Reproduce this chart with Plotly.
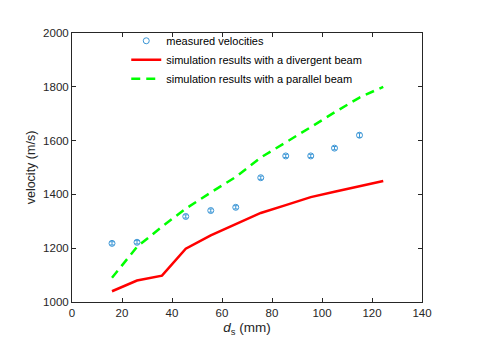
import plotly.graph_objects as go

# measured velocities
meas_x = [16, 26, 45.5, 55.5, 65.5, 75.5, 85.5, 95.5, 105, 115]
meas_y = [1218, 1222, 1318, 1340, 1352, 1462, 1543, 1543, 1572, 1620]
meas_err = [6, 6, 6, 6, 6, 6, 6, 6, 6, 8]

# simulation, divergent beam
div_x = [16, 26, 36, 45.5, 55.5, 65.5, 75.5, 85.5, 95.5, 105, 115, 124.5]
div_y = [1040, 1080, 1098, 1198, 1248, 1290, 1331, 1360, 1390, 1410, 1430, 1450]

# simulation, parallel beam
par_x = [16, 26, 36, 45.5, 55.5, 65.5, 75.5, 85.5, 95.5, 105, 115, 124.5]
par_y = [1090, 1205, 1280, 1347, 1407, 1465, 1537, 1592, 1650, 1705, 1760, 1800]

x_ticks = [0, 20, 40, 60, 80, 100, 120, 140]
y_ticks = [1000, 1200, 1400, 1600, 1800, 2000]

FONT = "Liberation Sans, Arial, Helvetica, sans-serif"
AX = "#262626"

fig = go.Figure()
fig.add_trace(go.Scatter(
    x=meas_x, y=meas_y, mode="markers", name="measured velocities",
    marker=dict(symbol="circle-open", size=6, color="#3d97d6", line=dict(width=1)),
    error_y=dict(type="data", array=meas_err, color="#3d97d6", thickness=1, width=2),
))
fig.add_trace(go.Scatter(
    x=div_x, y=div_y, mode="lines", name="simulation results with a divergent beam",
    line=dict(color="#ff0000", width=2.5),
))
fig.add_trace(go.Scatter(
    x=par_x, y=par_y, mode="lines", name="simulation results with a parallel beam",
    line=dict(color="#00ff00", width=2.5, dash="9px,6px"),
))

axis_common = dict(
    showline=True, linecolor=AX, linewidth=1, mirror="ticks",
    ticks="inside", ticklen=4, tickcolor=AX, tickwidth=1,
    showgrid=False, zeroline=False,
    tickfont=dict(family=FONT, size=11.5, color=AX),
)

fig.update_layout(
    width=479, height=355,
    margin=dict(l=64, r=65, t=25, b=61),
    paper_bgcolor="white", plot_bgcolor="white",
    font=dict(family=FONT, color=AX),
    xaxis=dict(range=[0, 140], tickvals=x_ticks,
               title=dict(text="<i>d</i><sub>s</sub> (mm)", font=dict(family=FONT, size=13.5, color=AX), standoff=4),
               **axis_common),
    yaxis=dict(range=[1000, 2000], tickvals=y_ticks,
               title=dict(text="velocity (m/s)", font=dict(family=FONT, size=12.5, color=AX), standoff=4),
               **axis_common),
    legend=dict(x=0.155, y=1.025, xanchor="left", yanchor="top",
                bgcolor="rgba(0,0,0,0)", font=dict(family=FONT, size=11, color="#000"),
                tracegroupgap=0, itemwidth=30),
    showlegend=True,
)

fig.write_html("out.html")
